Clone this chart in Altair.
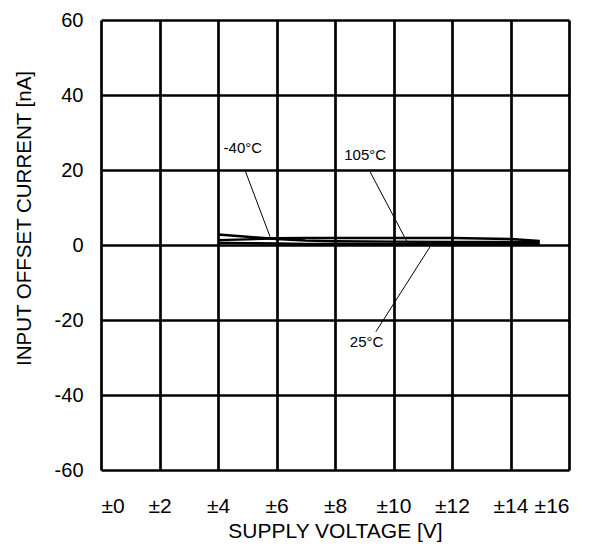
import altair as alt
import pandas as pd

# Data
voltage = [4, 5, 6, 7, 8, 10, 12, 14, 15]
i_m40 = [2.8, 2.2, 1.6, 1.2, 1.0, 0.9, 0.8, 0.8, 0.8]
i_25 = [0.6, 0.5, 0.4, 0.3, 0.3, 0.3, 0.3, 0.3, 0.3]
i_105 = [1.3, 1.5, 1.8, 1.9, 1.9, 1.9, 1.9, 1.6, 1.1]

x_ticks = [0, 2, 4, 6, 8, 10, 12, 14, 16]
y_ticks = [-60, -40, -20, 0, 20, 40, 60]

label_text = ["-40°C", "105°C", "25°C"]
label_x = [4.85, 9.03, 9.08]
label_y = [25.9, 24.0, -25.8]
leader_x1 = [4.92, 9.2, 9.4]
leader_y1 = [20.0, 19.5, -23.1]
leader_x2 = [5.78, 10.46, 11.25]
leader_y2 = [2.2, 0.9, -0.45]

FONT = "Liberation Sans"

rows = []
for name, vals in [("-40°C", i_m40), ("25°C", i_25), ("105°C", i_105)]:
    for v, i in zip(voltage, vals):
        rows.append({"series": name, "v": v, "i": i})
curves = pd.DataFrame(rows)
labels = pd.DataFrame({"text": label_text, "x": label_x, "y": label_y})
leaders = pd.DataFrame({"x": leader_x1, "y": leader_y1, "x2": leader_x2, "y2": leader_y2})

xscale = alt.Scale(domain=[0, 16], nice=False, zero=False)
yscale = alt.Scale(domain=[-60, 60], nice=False, zero=False)

xaxis = alt.Axis(values=x_ticks, title="SUPPLY VOLTAGE [V]", labelExpr="'±' + datum.value",
                 grid=True, gridColor="black", gridWidth=2.7, gridOpacity=1,
                 ticks=False, domain=False, labelPadding=25, titlePadding=4,
                 labelFontSize=21, titleFontSize=21, labelFont=FONT, titleFont=FONT,
                 labelColor="black", titleColor="black", titleFontWeight="normal")
yaxis = alt.Axis(values=y_ticks, title="INPUT OFFSET CURRENT [nA]", labelExpr="'' + datum.value",
                 grid=True, gridColor="black", gridWidth=2.7, gridOpacity=1,
                 ticks=False, domain=False, labelPadding=18, titlePadding=20,
                 titleY=198,
                 labelFontSize=20, titleFontSize=20.5, labelFont=FONT, titleFont=FONT,
                 labelColor="black", titleColor="black", titleFontWeight="normal")

lines = alt.Chart(curves).mark_line(color="black", strokeWidth=2.5).encode(
    x=alt.X("v:Q", scale=xscale, axis=xaxis),
    y=alt.Y("i:Q", scale=yscale, axis=yaxis),
    detail="series:N",
)

lead = alt.Chart(leaders).mark_rule(color="black", strokeWidth=1).encode(
    x=alt.X("x:Q", scale=xscale), y=alt.Y("y:Q", scale=yscale),
    x2="x2:Q", y2="y2:Q",
)

txt = alt.Chart(labels).mark_text(font=FONT, fontSize=15, color="black").encode(
    x=alt.X("x:Q", scale=xscale), y=alt.Y("y:Q", scale=yscale), text="text:N",
)

chart = alt.layer(lines, lead, txt).properties(
    width=468, height=450,
    padding={"left": 93, "top": 12, "right": 13, "bottom": 74},
    autosize=alt.AutoSizeParams(type="none"),
).configure_view(stroke="black", strokeWidth=3).configure(background="white")

chart.save("out.html", embed_options={"renderer": "svg", "actions": False})
